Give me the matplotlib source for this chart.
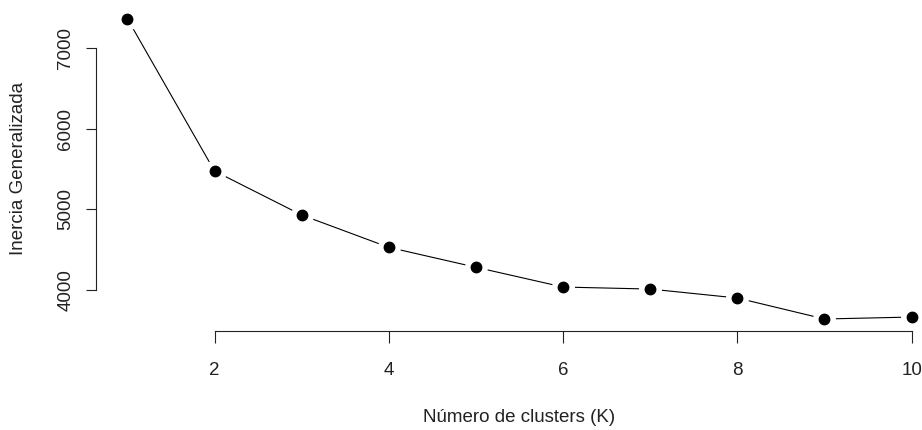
import matplotlib
matplotlib.use("Agg")
import matplotlib.pyplot as plt

# numero de clusters y inercia
k = [1, 2, 3, 4, 5, 6, 7, 8, 9, 10]
inercia = [7363, 5475, 4930, 4529, 4282, 4037, 4012, 3901, 3641, 3665]
xticks = [2, 4, 6, 8, 10]
yticks = [4000, 5000, 6000, 7000]

plt.rcParams['font.family'] = ['Liberation Sans', 'DejaVu Sans']
fs = 13.5
col = "#222222"

W, H = 922, 430
fig = plt.figure(figsize=(W / 100, H / 100), dpi=100)
# plot region in pixels, like R (left 96, right 943, top 6.7, bottom 331)
ax = fig.add_axes([96 / W, 1 - 331 / H, (943 - 96) / W, (331 - 6.7) / H])

# type="b": line with gaps around the points
ax.plot(k, inercia, color="black", lw=0.8, zorder=1)
ax.plot(k, inercia, "o", color="white", markersize=15.5, zorder=2, clip_on=False)
ax.plot(k, inercia, "o", color="black", markersize=7.5, zorder=3, clip_on=False)

pad = 0.04
xr = max(k) - min(k)
yr = max(inercia) - min(inercia)
ax.set_xlim(min(k) - pad * xr, max(k) + pad * xr)
ax.set_ylim(min(inercia) - pad * yr, max(inercia) + pad * yr)

ax.set_xticks(xticks)
ax.set_yticks(yticks)
ax.set_yticklabels([str(v) for v in yticks], rotation=90, va="center")
ax.tick_params(axis="x", direction="out", length=8.6, width=0.8,
               labelsize=fs, pad=14, colors=col)
ax.tick_params(axis="y", direction="out", length=7.2, width=0.8,
               labelsize=fs, pad=8.3, colors=col)

for s in ["top", "right"]:
    ax.spines[s].set_visible(False)
ax.spines["left"].set_bounds(yticks[0], yticks[-1])
ax.spines["bottom"].set_bounds(xticks[0], xticks[-1])
for s in ["left", "bottom"]:
    ax.spines[s].set_linewidth(0.8)
    ax.spines[s].set_color(col)

ax.set_xlabel("Número de clusters (K)", fontsize=fs, color=col)
ax.set_ylabel("Inercia Generalizada", fontsize=fs, color=col)
ax.xaxis.label.set_va("center")
ax.yaxis.label.set_va("center")
ax.xaxis.set_label_coords(0.5, (331 - 418) / (331 - 6.7))
ax.yaxis.set_label_coords((19 - 96) / (943 - 96), 0.5)

fig.savefig("out.png", dpi=100)
